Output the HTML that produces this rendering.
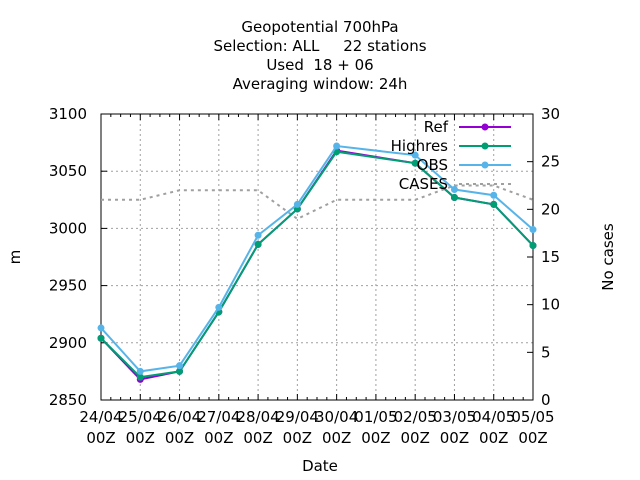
<!DOCTYPE html>
<html><head><meta charset="utf-8"><style>
body{margin:0;background:#fff;}
svg{display:block;font-family:"DejaVu Sans","Liberation Sans",sans-serif;font-size:15px;}
</style></head><body>
<svg id="chart" width="640" height="480">
<g id="grid"></g>
<g id="axes"></g>
<g id="series"></g>
<g text-anchor="middle" fill="#000">
<text x="320" y="32">Geopotential 700hPa</text>
<text x="320" y="51" xml:space="preserve">Selection: ALL     22 stations</text>
<text x="320" y="70" xml:space="preserve">Used  18 + 06</text>
<text x="320" y="89">Averaging window: 24h</text>
</g>
<text x="320" y="471" text-anchor="middle">Date</text>
<text transform="translate(20,257) rotate(-90)" text-anchor="middle">m</text>
<text transform="translate(613,257) rotate(-90)" text-anchor="middle">No cases</text>
<g id="legend"></g>
</svg>
<script>
const dates = ["24/04","25/04","26/04","27/04","28/04","29/04","30/04","01/05","02/05","03/05","04/05","05/05"];
const refIdx = [0,1,2,3,4,5,6,8,9,10,11];
const refVals = [2904,2868,2875,2927,2986,3017,3068,3057,3027,3021,2985];
const highresVals = [2904,2870,2875,2927,2986,3017,3067,3057,3027,3021,2985];
const obsVals = [2913,2875,2880,2931,2994,3021,3072,3064,3034,3029,2999];
const casesVals = [21,21,22,22,22,19,21,21,21,22.5,22.5,21];
const yTicks = [2850,2900,2950,3000,3050,3100];
const y2Ticks = [0,5,10,15,20,25,30];

const NS="http://www.w3.org/2000/svg";
const L=101,R=533,T=114,B=400;
const xs=i=>L+(R-L)*i/(dates.length-1);
const ys=v=>B-(B-T)*(v-2850)/250;
const y2s=v=>B-(B-T)*v/30;
function mk(tag,attrs,parent){const e=document.createElementNS(NS,tag);for(const k in attrs)e.setAttribute(k,attrs[k]);parent.appendChild(e);return e;}
const grid=document.getElementById('grid'),axes=document.getElementById('axes'),series=document.getElementById('series'),legend=document.getElementById('legend');
dates.forEach((d,i)=>{
  const x=xs(i);
  if(i>0&&i<dates.length-1){const g=mk('line',{x1:x,x2:x,y1:T,y2:B,stroke:'#a0a0a0','stroke-dasharray':'2,3'},grid);
  
  }
  mk('line',{x1:x,x2:x,y1:B,y2:B-6,stroke:'#000'},axes);
  mk('line',{x1:x,x2:x,y1:T,y2:T+6,stroke:'#000'},axes);
  if(i<dates.length-1){for(let k=1;k<4;k++){const xm=x+(xs(1)-xs(0))*k/4;mk('line',{x1:xm,x2:xm,y1:B,y2:B-3,stroke:'#000'},axes);mk('line',{x1:xm,x2:xm,y1:T,y2:T+3,stroke:'#000'},axes);}}
  const t=mk('text',{x:x,y:B+22,'text-anchor':'middle'},axes);t.textContent=d;
  
  
  const t2=mk('text',{x:x,y:B+43,'text-anchor':'middle'},axes);t2.textContent='00Z';
  
  
});
yTicks.forEach(v=>{
  const y=ys(v);
  if(v>2850&&v<3100){const g=mk('line',{x1:L,x2:R,y1:y,y2:y,stroke:'#a0a0a0','stroke-dasharray':'2,3'},grid);
  
  }
  mk('line',{x1:L,x2:L+6,y1:y,y2:y,stroke:'#000'},axes);
  const t=mk('text',{x:L-14,y:y+5,'text-anchor':'end'},axes);t.textContent=v;
  
  
});
y2Ticks.forEach(v=>{
  const y=y2s(v);
  mk('line',{x1:R,x2:R-6,y1:y,y2:y,stroke:'#000'},axes);
  const t=mk('text',{x:R+8,y:y+5,'text-anchor':'start'},axes);t.textContent=v;
  
  
});
const frame=mk('rect',{x:L,y:T,width:R-L,height:B-T,fill:'none',stroke:'#000'},axes);



const cp=mk('polyline',{points:casesVals.map((v,i)=>xs(i)+','+y2s(v)).join(' '),fill:'none',stroke:'#a0a0a0','stroke-width':2,'stroke-dasharray':'3,4'},series);


const defs=[['ref',refVals,'#9400d3'],['highres',highresVals,'#009e73'],['obs',obsVals,'#56b4e9']];
defs.forEach(([n,vals,c])=>{
  const p=mk('polyline',{points:vals.map((v,j)=>xs(refIdx[j])+','+ys(v)).join(' '),fill:'none',stroke:c,'stroke-width':2},series);
  
  
  vals.forEach((v,j)=>{const m=mk('circle',{cx:xs(refIdx[j]),cy:ys(v),r:3.5,fill:c},series);
  
  });
});
const leg=[['Ref','#9400d3',false],['Highres','#009e73',false],['OBS','#56b4e9',false],['CASES','#a0a0a0',true]];
leg.forEach(([lab,c,dash],i)=>{
  const y=127+i*19;
  const t=mk('text',{x:448,y:y+5,'text-anchor':'end'},legend);t.textContent=lab;
  
  
  const l=mk('line',{x1:459,x2:511,y1:y,y2:y,stroke:c,'stroke-width':2},legend);
  if(dash)l.setAttribute('stroke-dasharray','3,4');
  
  
  if(!dash){mk('circle',{cx:485,cy:y,r:3.5,fill:c},legend);}
});
</script>
</body></html>
